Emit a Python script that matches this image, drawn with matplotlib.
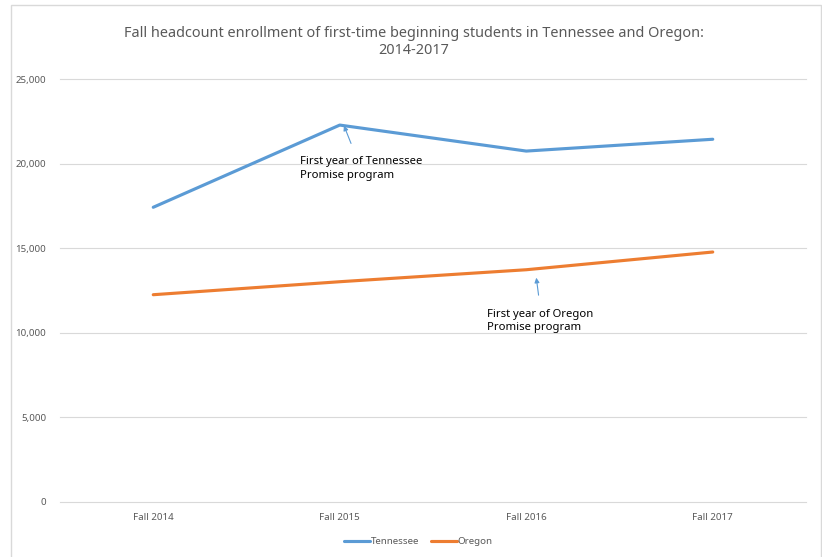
import matplotlib.pyplot as plt
from matplotlib.patches import Rectangle
from matplotlib.ticker import FuncFormatter

# enrollment values
years = ['Fall 2014', 'Fall 2015', 'Fall 2016', 'Fall 2017']
tennessee = [17430, 22300, 20760, 21460]
oregon = [12250, 13020, 13730, 14780]
yticks = [0, 5000, 10000, 15000, 20000, 25000]

plt.rcParams['font.family'] = ['Noto Sans', 'DejaVu Sans']

fig = plt.figure(figsize=(8.22, 5.57), dpi=100)
ax = fig.add_axes([60/822, 55.5/557, 746/822, 422/557])

x = list(range(len(years)))
ax.plot(x, tennessee, color='#5B9BD5', lw=2.25, label='Tennessee', solid_capstyle='round')
ax.plot(x, oregon, color='#ED7D31', lw=2.25, label='Oregon', solid_capstyle='round')

ax.set_xlim(-0.5, len(years) - 0.5)
ax.set_ylim(0, 25000)
ax.set_xticks(x)
ax.set_xticklabels(years)
ax.set_yticks(yticks)
ax.yaxis.set_major_formatter(FuncFormatter(lambda v, p: '{:,.0f}'.format(v)))
ax.tick_params(length=0, labelsize=7, colors='#595959')
ax.tick_params(axis='y', pad=10)
ax.tick_params(axis='x', pad=8)
ax.grid(axis='y', color='#D9D9D9', lw=0.8)
ax.set_axisbelow(True)
for g in ax.get_ygridlines():
    g.set_clip_on(False)
for s in ax.spines.values():
    s.set_visible(False)

# annotations
ax.annotate('', xy=(1.017, 22420), xytext=(1.066, 21060),
            arrowprops=dict(arrowstyle='-|>', color='#5B9BD5', lw=0.8, mutation_scale=7))
ax.text(0.787, 19730, 'First year of Tennessee\nPromise program', fontsize=8.1,
        va='center', ha='left', color='#000000', linespacing=1.3)
ax.annotate('', xy=(2.052, 13420), xytext=(2.068, 12060),
            arrowprops=dict(arrowstyle='-|>', color='#5B9BD5', lw=0.8, mutation_scale=7))
ax.text(1.79, 10690, 'First year of Oregon\nPromise program', fontsize=8.1,
        va='center', ha='left', color='#000000', linespacing=1.3)

fig.text(414/822, 1 - 42/557, 'Fall headcount enrollment of first-time beginning students in Tennessee and Oregon:\n2014-2017',
         ha='center', va='center', fontsize=10.4, color='#595959', linespacing=1.15)

ax.legend(loc='center', bbox_to_anchor=(0.48, -0.095), ncol=2, frameon=False,
          fontsize=7, handlelength=2.7, handletextpad=0.05, columnspacing=1.2,
          labelcolor='#595959')

fig.patches.append(Rectangle((11/822, -0.01), 810/822, 1 - 5/557 + 0.01, transform=fig.transFigure,
                             fill=False, ec='#D9D9D9', lw=1))

plt.savefig('out.png', dpi=100)
